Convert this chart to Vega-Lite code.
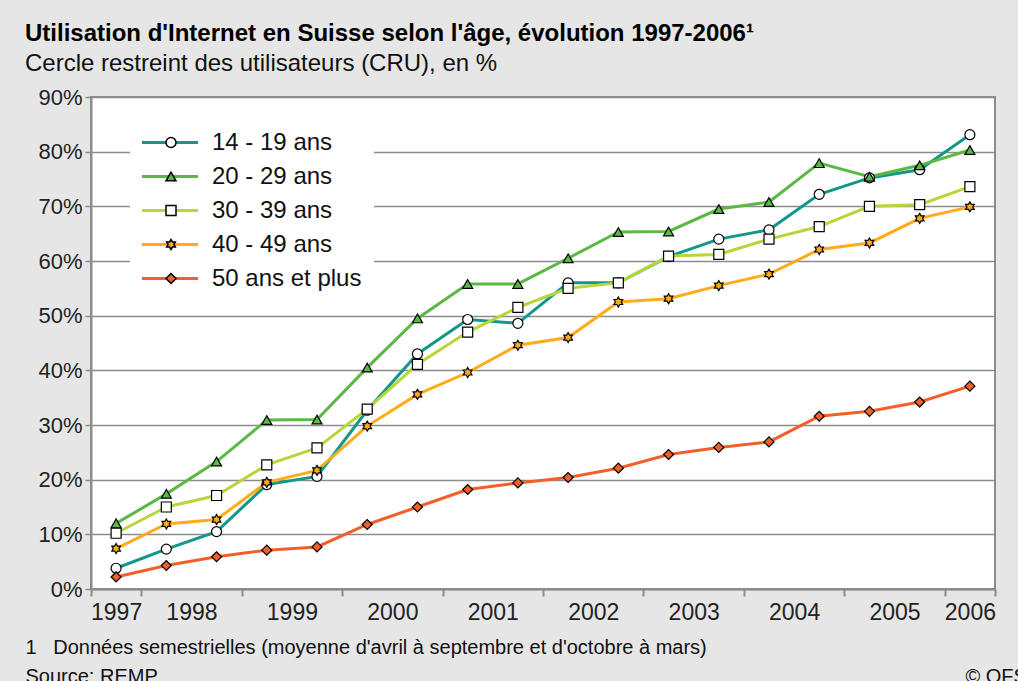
{
  "$schema": "https://vega.github.io/schema/vega-lite/v6.json",
  "width": 904,
  "height": 492,
  "autosize": "none",
  "padding": {"left": 91, "top": 97, "right": 23, "bottom": 92},
  "background": "#e6e6e6",
  "config": {
    "view": {"fill": "white", "stroke": "#8c8c8c", "strokeWidth": 2},
    "font": "Liberation Sans"
  },
  "title": {
    "text": "Utilisation d'Internet en Suisse selon l'âge, évolution 1997-2006¹",
    "subtitle": "Cercle restreint des utilisateurs (CRU), en %",
    "anchor": "start",
    "frame": "group",
    "dx": -66,
    "offset": 10,
    "font": "Liberation Sans",
    "fontSize": 24,
    "fontWeight": "bold",
    "color": "#000000",
    "subtitleFont": "Liberation Sans",
    "subtitleFontSize": 24,
    "subtitleColor": "#111111",
    "subtitlePadding": 6
  },
  "data": {
    "values": [
      {"semestre": 1, "groupe": "14 - 19 ans", "pct": 3.8},
      {"semestre": 2, "groupe": "14 - 19 ans", "pct": 7.3},
      {"semestre": 3, "groupe": "14 - 19 ans", "pct": 10.5},
      {"semestre": 4, "groupe": "14 - 19 ans", "pct": 19.1},
      {"semestre": 5, "groupe": "14 - 19 ans", "pct": 20.6},
      {"semestre": 6, "groupe": "14 - 19 ans", "pct": 32.7},
      {"semestre": 7, "groupe": "14 - 19 ans", "pct": 43.0},
      {"semestre": 8, "groupe": "14 - 19 ans", "pct": 49.3},
      {"semestre": 9, "groupe": "14 - 19 ans", "pct": 48.6},
      {"semestre": 10, "groupe": "14 - 19 ans", "pct": 56.0},
      {"semestre": 11, "groupe": "14 - 19 ans", "pct": 56.0},
      {"semestre": 12, "groupe": "14 - 19 ans", "pct": 60.8},
      {"semestre": 13, "groupe": "14 - 19 ans", "pct": 64.0},
      {"semestre": 14, "groupe": "14 - 19 ans", "pct": 65.7},
      {"semestre": 15, "groupe": "14 - 19 ans", "pct": 72.2},
      {"semestre": 16, "groupe": "14 - 19 ans", "pct": 75.2},
      {"semestre": 17, "groupe": "14 - 19 ans", "pct": 76.7},
      {"semestre": 18, "groupe": "14 - 19 ans", "pct": 83.1},
      {"semestre": 1, "groupe": "20 - 29 ans", "pct": 12.0},
      {"semestre": 2, "groupe": "20 - 29 ans", "pct": 17.4},
      {"semestre": 3, "groupe": "20 - 29 ans", "pct": 23.3},
      {"semestre": 4, "groupe": "20 - 29 ans", "pct": 30.9},
      {"semestre": 5, "groupe": "20 - 29 ans", "pct": 31.0},
      {"semestre": 6, "groupe": "20 - 29 ans", "pct": 40.5},
      {"semestre": 7, "groupe": "20 - 29 ans", "pct": 49.5},
      {"semestre": 8, "groupe": "20 - 29 ans", "pct": 55.8},
      {"semestre": 9, "groupe": "20 - 29 ans", "pct": 55.8},
      {"semestre": 10, "groupe": "20 - 29 ans", "pct": 60.5},
      {"semestre": 11, "groupe": "20 - 29 ans", "pct": 65.3},
      {"semestre": 12, "groupe": "20 - 29 ans", "pct": 65.4},
      {"semestre": 13, "groupe": "20 - 29 ans", "pct": 69.5},
      {"semestre": 14, "groupe": "20 - 29 ans", "pct": 70.8},
      {"semestre": 15, "groupe": "20 - 29 ans", "pct": 77.9},
      {"semestre": 16, "groupe": "20 - 29 ans", "pct": 75.4},
      {"semestre": 17, "groupe": "20 - 29 ans", "pct": 77.5},
      {"semestre": 18, "groupe": "20 - 29 ans", "pct": 80.3},
      {"semestre": 1, "groupe": "30 - 39 ans", "pct": 10.2},
      {"semestre": 2, "groupe": "30 - 39 ans", "pct": 15.0},
      {"semestre": 3, "groupe": "30 - 39 ans", "pct": 17.1},
      {"semestre": 4, "groupe": "30 - 39 ans", "pct": 22.7},
      {"semestre": 5, "groupe": "30 - 39 ans", "pct": 25.8},
      {"semestre": 6, "groupe": "30 - 39 ans", "pct": 32.9},
      {"semestre": 7, "groupe": "30 - 39 ans", "pct": 41.1},
      {"semestre": 8, "groupe": "30 - 39 ans", "pct": 47.0},
      {"semestre": 9, "groupe": "30 - 39 ans", "pct": 51.5},
      {"semestre": 10, "groupe": "30 - 39 ans", "pct": 55.0},
      {"semestre": 11, "groupe": "30 - 39 ans", "pct": 56.0},
      {"semestre": 12, "groupe": "30 - 39 ans", "pct": 60.9},
      {"semestre": 13, "groupe": "30 - 39 ans", "pct": 61.2},
      {"semestre": 14, "groupe": "30 - 39 ans", "pct": 64.0},
      {"semestre": 15, "groupe": "30 - 39 ans", "pct": 66.3},
      {"semestre": 16, "groupe": "30 - 39 ans", "pct": 70.0},
      {"semestre": 17, "groupe": "30 - 39 ans", "pct": 70.3},
      {"semestre": 18, "groupe": "30 - 39 ans", "pct": 73.6},
      {"semestre": 1, "groupe": "40 - 49 ans", "pct": 7.4},
      {"semestre": 2, "groupe": "40 - 49 ans", "pct": 11.9},
      {"semestre": 3, "groupe": "40 - 49 ans", "pct": 12.7},
      {"semestre": 4, "groupe": "40 - 49 ans", "pct": 19.5},
      {"semestre": 5, "groupe": "40 - 49 ans", "pct": 21.7},
      {"semestre": 6, "groupe": "40 - 49 ans", "pct": 29.8},
      {"semestre": 7, "groupe": "40 - 49 ans", "pct": 35.6},
      {"semestre": 8, "groupe": "40 - 49 ans", "pct": 39.6},
      {"semestre": 9, "groupe": "40 - 49 ans", "pct": 44.6},
      {"semestre": 10, "groupe": "40 - 49 ans", "pct": 46.0},
      {"semestre": 11, "groupe": "40 - 49 ans", "pct": 52.5},
      {"semestre": 12, "groupe": "40 - 49 ans", "pct": 53.1},
      {"semestre": 13, "groupe": "40 - 49 ans", "pct": 55.5},
      {"semestre": 14, "groupe": "40 - 49 ans", "pct": 57.6},
      {"semestre": 15, "groupe": "40 - 49 ans", "pct": 62.1},
      {"semestre": 16, "groupe": "40 - 49 ans", "pct": 63.3},
      {"semestre": 17, "groupe": "40 - 49 ans", "pct": 67.8},
      {"semestre": 18, "groupe": "40 - 49 ans", "pct": 69.9},
      {"semestre": 1, "groupe": "50 ans et plus", "pct": 2.2},
      {"semestre": 2, "groupe": "50 ans et plus", "pct": 4.3},
      {"semestre": 3, "groupe": "50 ans et plus", "pct": 5.9},
      {"semestre": 4, "groupe": "50 ans et plus", "pct": 7.1},
      {"semestre": 5, "groupe": "50 ans et plus", "pct": 7.7},
      {"semestre": 6, "groupe": "50 ans et plus", "pct": 11.8},
      {"semestre": 7, "groupe": "50 ans et plus", "pct": 15.0},
      {"semestre": 8, "groupe": "50 ans et plus", "pct": 18.2},
      {"semestre": 9, "groupe": "50 ans et plus", "pct": 19.4},
      {"semestre": 10, "groupe": "50 ans et plus", "pct": 20.4},
      {"semestre": 11, "groupe": "50 ans et plus", "pct": 22.1},
      {"semestre": 12, "groupe": "50 ans et plus", "pct": 24.6},
      {"semestre": 13, "groupe": "50 ans et plus", "pct": 25.9},
      {"semestre": 14, "groupe": "50 ans et plus", "pct": 26.9},
      {"semestre": 15, "groupe": "50 ans et plus", "pct": 31.6},
      {"semestre": 16, "groupe": "50 ans et plus", "pct": 32.5},
      {"semestre": 17, "groupe": "50 ans et plus", "pct": 34.2},
      {"semestre": 18, "groupe": "50 ans et plus", "pct": 37.1}
    ]
  },
  "encoding": {
    "y": {
      "field": "pct",
      "type": "quantitative",
      "scale": {"domain": [0, 90], "nice": false, "zero": true},
      "axis": {
        "values": [0, 10, 20, 30, 40, 50, 60, 70, 80, 90],
        "labelExpr": "datum.value + '%'",
        "labelFont": "Liberation Sans",
        "labelFontSize": 22,
        "labelColor": "#222222",
        "labelPadding": 3,
        "tickSize": 6,
        "tickColor": "#8c8c8c",
        "tickWidth": 1.5,
        "domainColor": "#8c8c8c",
        "domainWidth": 2,
        "grid": true,
        "gridColor": "#8c8c8c",
        "gridWidth": 1.5,
        "title": "Source: REMP",
        "titleAngle": 0,
        "titleX": -66,
        "titleY": 569,
        "titleAlign": "left",
        "titleBaseline": "top",
        "titleFont": "Liberation Sans",
        "titleFontWeight": "normal",
        "titleFontSize": 20,
        "titleColor": "#111111"
      }
    }
  },
  "layer": [
    {
      "mark": {"type": "line", "strokeWidth": 3},
      "encoding": {
        "x": {
          "field": "semestre",
          "type": "quantitative",
          "scale": {"domain": [0.5, 18.5], "nice": false, "zero": false},
          "axis": {
            "values": [1, 2.5, 4.5, 6.5, 8.5, 10.5, 12.5, 14.5, 16.5, 18],
            "labelExpr": "datum.value == 1 ? '1997' : datum.value == 18 ? '2006' : '' + (1997 + (datum.value - 0.5) / 2)",
            "ticks": false,
            "domain": false,
            "grid": false,
            "labelPadding": 12,
            "labelFont": "Liberation Sans",
            "labelFontSize": 23,
            "labelColor": "#222222",
            "labelFlush": false,
            "labelOverlap": false,
            "title": "1\u00a0\u00a0\u00a0Données semestrielles (moyenne d'avril à septembre et d'octobre à mars)",
            "titleX": -66,
            "titleY": 48,
            "titleAlign": "left",
            "titleAnchor": "start",
            "titleBaseline": "top",
            "titleFont": "Liberation Sans",
            "titleFontWeight": "normal",
            "titleFontSize": 20,
            "titleColor": "#111111"
          }
        },
        "color": {
          "field": "groupe",
          "type": "nominal",
          "scale": {
            "domain": ["14 - 19 ans", "20 - 29 ans", "30 - 39 ans", "40 - 49 ans", "50 ans et plus"],
            "range": ["#12978a", "#5cb845", "#b6d63a", "#ffab1a", "#f2602a"]
          },
          "legend": {
            "orient": "none",
            "legendX": 39,
            "legendY": 21.5,
            "title": null,
            "fillColor": "white",
            "padding": 12,
            "symbolType": "M-10,0H10",
            "symbolSize": 31.36,
            "symbolStrokeWidth": 3,
            "symbolOffset": 16,
            "labelFont": "Liberation Sans",
            "labelFontSize": 24,
            "labelColor": "#111111",
            "labelOffset": 30,
            "rowPadding": 10,
            "zindex": 1
          }
        }
      }
    },
    {
      "mark": {"type": "point", "filled": true, "stroke": "black", "strokeWidth": 1.2, "size": 100, "opacity": 1},
      "encoding": {
        "x": {
          "field": "semestre",
          "type": "quantitative",
          "scale": {"domain": [0.5, 18.5], "nice": false, "zero": false},
          "axis": {
            "orient": "bottom",
            "values": [0.5, 1.5, 3.5, 5.5, 7.5, 9.5, 11.5, 13.5, 15.5, 17.5, 18.5],
            "labels": false,
            "ticks": true,
            "tickSize": 7,
            "tickColor": "#8c8c8c",
            "tickWidth": 2,
            "domain": true,
            "domainColor": "#8c8c8c",
            "domainWidth": 2,
            "grid": false,
            "title": "© OFS",
            "titleX": 874,
            "titleY": 77,
            "titleAlign": "left",
            "titleAnchor": "start",
            "titleBaseline": "top",
            "titleFont": "Liberation Sans",
            "titleFontWeight": "normal",
            "titleFontSize": 20,
            "titleColor": "#111111"
          }
        },
        "shape": {
          "field": "groupe",
          "type": "nominal",
          "scale": {
            "range": ["circle", "triangle-up", "square", "M0,-1L0.289,-0.5L0.866,-0.5L0.577,0L0.866,0.5L0.289,0.5L0,1L-0.289,0.5L-0.866,0.5L-0.577,0L-0.866,-0.5L-0.289,-0.5Z", "diamond"]
          },
          "legend": {
            "orient": "none",
            "legendX": 68,
            "legendY": 33.5,
            "title": null,
            "padding": 0,
            "symbolSize": 100,
            "symbolOpacity": 1,
            "labelFontSize": 24,
            "labelExpr": "''",
            "rowPadding": 10,
            "zindex": 2,
            "encode": {"symbols": {"update": {"stroke": {"value": "black"}, "strokeWidth": {"value": 1.2}}}}
          }
        },
        "fill": {
          "field": "groupe",
          "type": "nominal",
          "scale": {"range": ["#ffffff", "#5cb845", "#ffffff", "#ffab1a", "#f2602a"]},
          "legend": {
            "orient": "none",
            "legendX": 68,
            "legendY": 33.5,
            "title": null,
            "padding": 0,
            "symbolSize": 100,
            "symbolOpacity": 1,
            "labelFontSize": 24,
            "labelExpr": "''",
            "rowPadding": 10,
            "zindex": 2,
            "encode": {"symbols": {"update": {"stroke": {"value": "black"}, "strokeWidth": {"value": 1.2}}}}
          }
        }
      }
    }
  ],
  "resolve": {"axis": {"x": "independent"}}
}
